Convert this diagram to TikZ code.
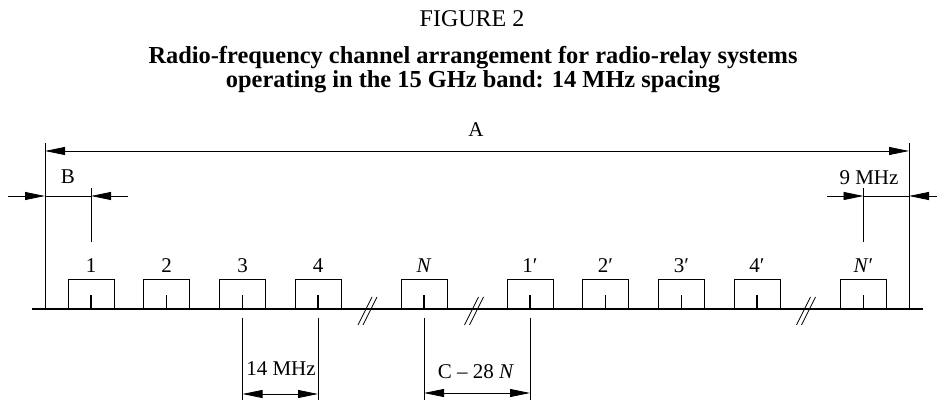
\documentclass[tikz,border=0pt]{standalone}
\usepackage{fontspec}
\setmainfont{Liberation Serif}
\usetikzlibrary{arrows.meta}

\begin{document}
\begin{tikzpicture}[x=0.5pt,y=-0.5pt,font=\fontsize{10.5}{12}\selectfont,
  chbox/.style={draw,line width=0.4pt,minimum width=23pt,minimum height=15pt,inner sep=0pt},
  txt/.style={anchor=base,inner sep=0pt},
  ttlfont/.style={font=\fontsize{12}{12}\selectfont},
  boldfont/.style={font=\fontsize{12.2}{12}\selectfont\bfseries},
  thinline/.style={line width=0.4pt},
  dimtip/.style={-{Triangle[length=10pt,width=4pt]},line width=0.4pt},
  dimboth/.style={{Triangle[length=10pt,width=4pt]}-{Triangle[length=10pt,width=4pt]},line width=0.4pt}]
  \useasboundingbox (0,0) rectangle (937,400);
  % Title
  \node[txt,ttlfont] (fig) at (472,27) {FIGURE 2};
  \node[txt,boldfont] (ttl1) at (473,64) {Radio-frequency channel arrangement for radio-relay systems};
  \node[txt,boldfont] (ttl2) at (473,88) {operating in the 15 GHz band: 14 MHz spacing};
  % Frequency axis
  \coordinate (axL) at (32,309);
  \coordinate (axR) at (923,309);
  \draw[line width=1pt] (axL) -- (axR);
  % Channels
  \foreach \n/\x/\t in {1/91/1, 2/166.5/2, 3/242.5/3, 4/318/4, N/424/\textit{N},
      1p/530/1′, 2p/605.5/2′, 3p/681.5/3′, 4p/757/4′, Np/863.5/\textit{N}′} {
    \node[chbox] (ch\n) at (\x,294) {};
    \draw[line width=0.8pt] (ch\n.south) -- ++(0,-14);
    \node[txt] (lab\n) at (\x,273) {\t};
  }
  % Breaks in the axis
  \foreach \x in {367.5,474,806} {
    \draw[thinline] (\x-9.5,325) -- (\x+4.5,297);
    \draw[thinline] (\x-4.5,325) -- (\x+9.5,297);
  }
  % Overall band A
  \coordinate (aTopL) at (45,143);
  \coordinate (aTopR) at (909,143);
  \draw[thinline] (aTopL) -- (aTopL |- axL);
  \draw[thinline] (aTopR) -- (aTopR |- axR);
  \coordinate (aL) at (45,151);
  \coordinate (aR) at (909,151);
  \draw[dimboth] (aL) -- (aR);
  \node[txt] (labA) at (476,137) {A};
  % Guard band B
  \coordinate (bOut) at (8,196);
  \coordinate (bL) at (45,196);
  \coordinate (bR) at (91,196);
  \coordinate (bIn) at (128,196);
  \coordinate (bTop) at (91,188);
  \coordinate (bBot) at (91,242);
  \draw[dimtip] (bOut) -- (bL);
  \draw[thinline] (bL) -- (bR);
  \draw[dimtip] (bIn) -- (bR);
  \draw[thinline] (bTop) -- (bBot);
  \node[txt] (labB) at (68,184) {B};
  % Upper guard band 9 MHz
  \coordinate (gOut) at (827,196);
  \coordinate (gL) at (863.5,196);
  \coordinate (gR) at (909,196);
  \coordinate (gIn) at (937,196);
  \coordinate (gTop) at (863.5,188);
  \coordinate (gBot) at (863.5,242);
  \draw[dimtip] (gOut) -- (gL);
  \draw[thinline] (gL) -- (gR);
  \draw[dimtip] (gIn) -- (gR);
  \draw[thinline] (gTop) -- (gBot);
  \node[txt] (lab9) at (869,185) {9 MHz};
  % Channel spacing 14 MHz
  \coordinate (sL) at (242.5,318);
  \coordinate (sR) at (318,318);
  \draw[thinline] (sL) -- ++(0,82);
  \draw[thinline] (sR) -- ++(0,82);
  \coordinate (sArrL) at (242.5,394);
  \coordinate (sArrR) at (318,394);
  \draw[dimboth] (sArrL) -- (sArrR);
  \node[txt] (lab14) at (281,376) {14 MHz};
  % Centre gap C - 28 N
  \coordinate (cL) at (424,318);
  \coordinate (cR) at (530,318);
  \draw[thinline] (cL) -- ++(0,82);
  \draw[thinline] (cR) -- ++(0,82);
  \coordinate (cArrL) at (424,393);
  \coordinate (cArrR) at (530,393);
  \draw[dimboth] (cArrL) -- (cArrR);
  \node[txt] (labC) at (476,379) {C – 28 \textit{N}};
\end{tikzpicture}
\end{document}
